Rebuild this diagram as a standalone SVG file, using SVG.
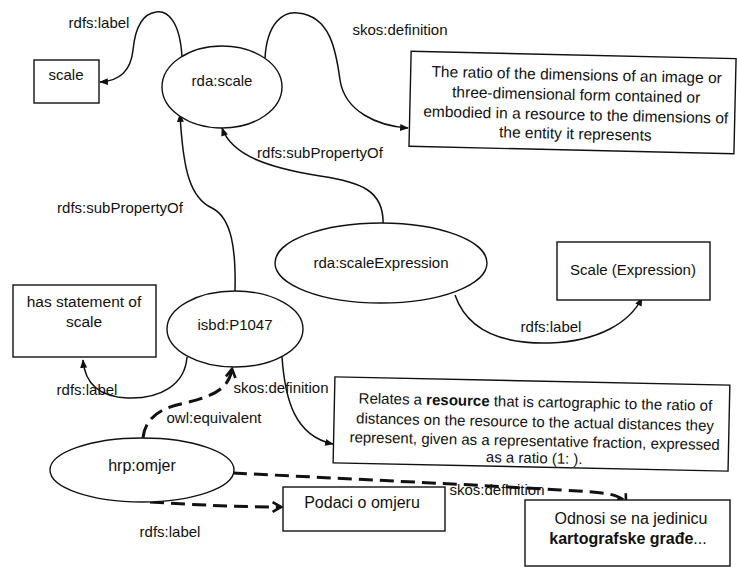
<svg xmlns="http://www.w3.org/2000/svg" width="737" height="567" viewBox="0 0 737 567">
<style>
text{font-family:"Liberation Sans",Arial,sans-serif;font-size:15px;fill:#111;text-anchor:middle}
.n{fill:#fff;stroke:#111;stroke-width:1.4}
.e{fill:none;stroke:#111;stroke-width:1.5}
.d{fill:none;stroke:#111;stroke-width:3;stroke-dasharray:14 7}
.b{font-weight:bold}
.t{font-size:15.5px}
.l{font-size:16px}
</style>
<defs>
<marker id="a" viewBox="0 0 10 8" refX="9" refY="4" markerWidth="9" markerHeight="7" markerUnits="userSpaceOnUse" orient="auto">
<path d="M0,0 L10,4 L0,8 z" fill="#111"/>
</marker>
<marker id="c" viewBox="0 0 10 10" refX="8" refY="5" markerWidth="12" markerHeight="12" markerUnits="userSpaceOnUse" orient="auto">
<path d="M1,1 L8,5 L1,9" fill="none" stroke="#111" stroke-width="2.2"/>
</marker>
</defs>
<rect width="737" height="567" fill="#fff"/>
<g id="connectors">
<path class="e" d="M182,57 C180,22 168,10 156,12 C141,14 135,30 133,50 C131,70 121,81 100,82" marker-end="url(#a)"/>
<path class="e" d="M265,58 C267,22 284,11 298,13 C330,16 336,50 340,80 C345,112 378,126 408,128" marker-end="url(#a)"/>
<path class="e" d="M383,226 C385,190 360,182 320,176 C270,168 232,156 222,128" marker-end="url(#a)"/>
<path class="e" d="M235,291 C236,250 232,218 212,208 C190,198 183,170 180,114" marker-end="url(#a)"/>
<path class="e" d="M455,295 C470,338 515,344 550,343 C600,341 630,322 642,298" marker-end="url(#a)"/>
<path class="e" d="M187,357 C185,385 160,399 128,398 C100,397 85,385 83,360" marker-end="url(#a)"/>
<path class="e" d="M282,357 C285,400 295,436 333,444" marker-end="url(#a)"/>
<path class="d" d="M143,438 C145,418 160,408 185,403 C215,396 229,388 232,369" marker-end="url(#c)"/>
<path class="d" d="M150,502 C200,505 240,507 281,507" marker-end="url(#c)"/>
<path class="d" d="M233,473 C330,478 480,485 560,490 C600,492 620,493 626,503" marker-end="url(#c)"/>
</g>
<g id="labels">
<text x="99" y="28">rdfs:label</text>
<text x="400" y="35">skos:definition</text>
<text x="320" y="158">rdfs:subPropertyOf</text>
<text x="120" y="213">rdfs:subPropertyOf</text>
<text x="551" y="332">rdfs:label</text>
<text x="87" y="395">rdfs:label</text>
<text x="281" y="393">skos:definition</text>
<text x="214" y="423">owl:equivalent</text>
<text x="170" y="537">rdfs:label</text>
<text x="497" y="495">skos:definition</text>
</g>
<g id="scale">
<rect class="n" x="34" y="60" width="65" height="43"/>
<text x="66" y="80">scale</text>
</g>
<g id="rda-scale">
<ellipse class="n" cx="222" cy="87" rx="60" ry="41"/>
<text x="222" y="86">rda:scale</text>
</g>
<g id="def-scale" transform="rotate(1.3 573 104)">
<rect class="n" x="410" y="55" width="325" height="95"/>
<text class="t" x="576" y="80">The ratio of the dimensions of an image or</text>
<text class="t" x="576" y="100">three-dimensional form contained or</text>
<text class="t" x="576" y="120">embodied in a resource to the dimensions of</text>
<text class="t" x="576" y="139">the entity it represents</text>
</g>
<g id="rda-scaleExpression">
<ellipse class="n" cx="381" cy="263" rx="106" ry="40"/>
<text x="381" y="268">rda:scaleExpression</text>
</g>
<g id="scale-expression">
<rect class="n" x="557" y="242" width="153" height="58"/>
<text x="633" y="275">Scale (Expression)</text>
</g>
<g id="has-statement">
<rect class="n" x="13" y="285" width="143" height="72"/>
<text class="t" x="84" y="307">has statement of</text>
<text class="t" x="84" y="327">scale</text>
</g>
<g id="isbd-P1047">
<ellipse class="n" cx="235" cy="329" rx="68" ry="38"/>
<text x="235" y="330">isbd:P1047</text>
</g>
<g id="def-isbd" transform="rotate(1.2 531 423)">
<rect class="n" x="334" y="381" width="395" height="86"/>
<text x="535" y="407">Relates a <tspan class="b">resource</tspan> that is cartographic to the ratio of</text>
<text x="535" y="427">distances on the resource to the actual distances they</text>
<text x="535" y="446">represent, given as a representative fraction, expressed</text>
<text x="535" y="463">as a ratio (1: ).</text>
</g>
<g id="hrp-omjer">
<ellipse class="n" cx="142" cy="470" rx="92" ry="32"/>
<text class="l" x="142" y="471">hrp:omjer</text>
</g>
<g id="podaci">
<rect class="n" x="283" y="487" width="162" height="44"/>
<text class="l" x="362" y="508">Podaci o omjeru</text>
</g>
<g id="odnosi">
<rect class="n" x="525" y="500" width="205" height="66"/>
<text class="l" x="631" y="524">Odnosi se na jedinicu</text>
<text class="l" x="628" y="544"><tspan class="b">kartografske građe</tspan>...</text>
</g>
</svg>
